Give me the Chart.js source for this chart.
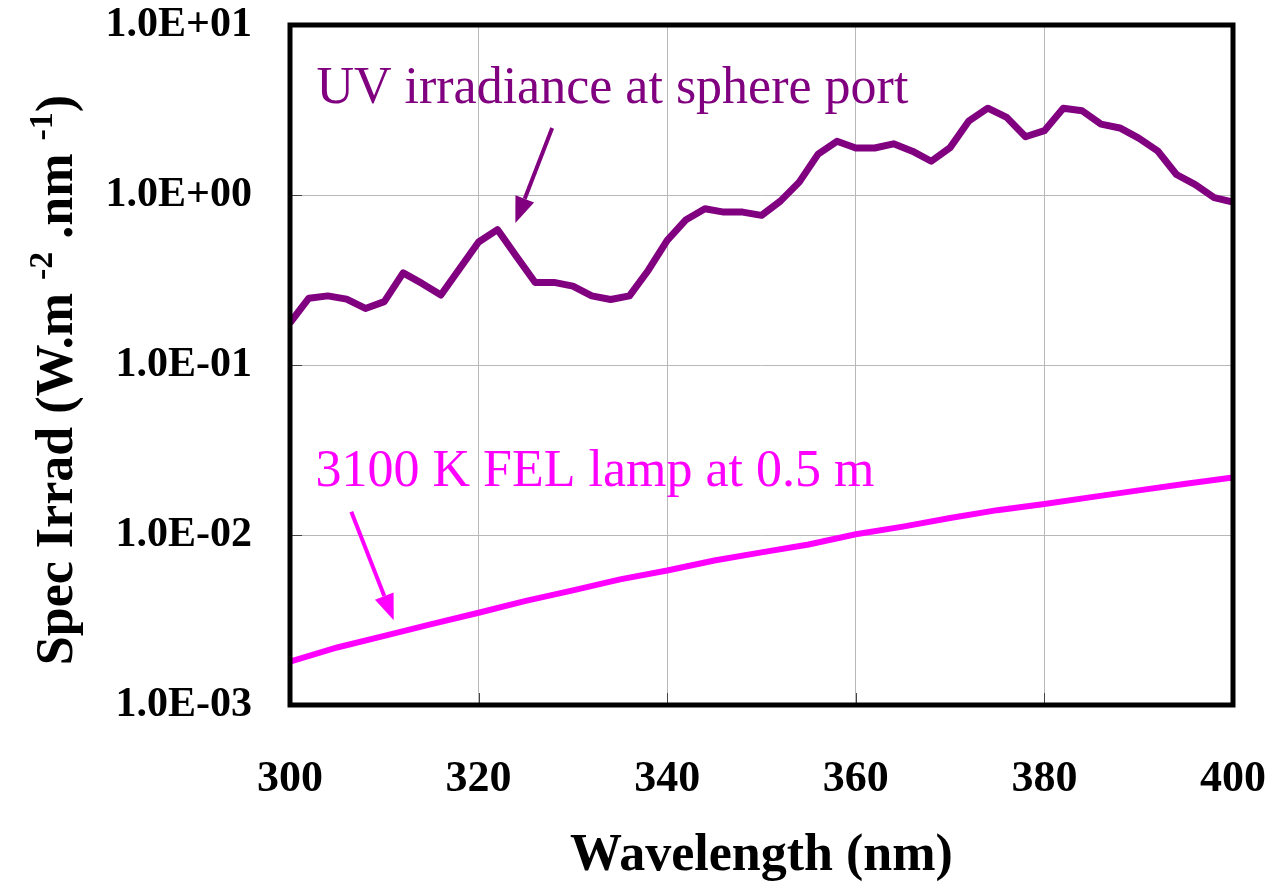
<!DOCTYPE html>
<html>
<head>
<meta charset="utf-8">
<title>Spectral irradiance</title>
<script src="https://cdn.jsdelivr.net/npm/chart.js@4.4.1/dist/chart.umd.min.js"></script>
<style>
  html, body { margin: 0; padding: 0; background: #fff; }
  canvas { display: block; }
</style>
</head>
<body>
<canvas id="grafico" width="1272" height="883"></canvas>
<script>
// datos
const wavelengths = [300, 302, 304, 306, 308, 310, 312, 314, 316, 318, 320, 322, 324, 326, 328, 330, 332, 334, 336, 338,
                     340, 342, 344, 346, 348, 350, 352, 354, 356, 358, 360, 362, 364, 366, 368, 370, 372, 374, 376, 378,
                     380, 382, 384, 386, 388, 390, 392, 394, 396, 398, 400];
const uvIrrad = [0.177, 0.247, 0.255, 0.244, 0.215, 0.236, 0.348, 0.302, 0.258, 0.370, 0.529, 0.626, 0.436, 0.306, 0.306,
                 0.291, 0.255, 0.243, 0.255, 0.361, 0.541, 0.716, 0.830, 0.793, 0.793, 0.759, 0.920, 1.19, 1.74, 2.07,
                 1.89, 1.89, 2.00, 1.81, 1.58, 1.90, 2.73, 3.24, 2.86, 2.20, 2.39, 3.24, 3.13, 2.61, 2.48, 2.16,
                 1.82, 1.32, 1.15, 0.964, 0.907];

const lampWavelengths = [300, 305, 310, 315, 320, 325, 330, 335, 340, 345, 350, 355, 360, 365, 370, 375, 380, 385, 390, 395, 400];
const lampIrrad = [0.00180, 0.00218, 0.00255, 0.00299, 0.00349, 0.00410, 0.00472, 0.00548, 0.00618, 0.00708, 0.00790,
                   0.00880, 0.0101, 0.0112, 0.0126, 0.0140, 0.0152, 0.0167, 0.0183, 0.0200, 0.0218];

const xTicks = [300, 320, 340, 360, 380, 400];
const yTicks = [0.001, 0.01, 0.1, 1, 10];
const yTickLabels = ['1.0E-03', '1.0E-02', '1.0E-01', '1.0E+00', '1.0E+01'];

const serif = '"Liberation Serif", "Times New Roman", serif';
const purple = '#800080';
const magenta = '#ff00ff';

// textos y flechas en coordenadas de datos
const notes = [
    { text: 'UV irradiance at sphere port', x: 302.8, y: 3.5, color: purple },
    { text: '3100 K FEL lamp at 0.5 m', x: 302.7, y: 0.0194, color: magenta }
];
const arrows = [
    { from: [327.8, 2.48], to: [323.9, 0.684], color: purple },
    { from: [306.5, 0.0137], to: [311.0, 0.00315], color: magenta }
];

function toPoints(xs, ys) {
    return xs.map((x, i) => ({ x: x, y: ys[i] }));
}

const decoraciones = {
    id: 'decoraciones',
    afterDatasetsDraw(chart) {
        const ctx = chart.ctx;
        const area = chart.chartArea;
        const xs = chart.scales.x;
        const ys = chart.scales.y;

        // marcas interiores
        ctx.save();
        ctx.strokeStyle = '#444';
        ctx.lineWidth = 1;
        yTicks.forEach(v => {
            const py = Math.round(ys.getPixelForValue(v)) + 0.5;
            ctx.beginPath();
            ctx.moveTo(area.left, py);
            ctx.lineTo(area.left + 12, py);
            ctx.stroke();
        });
        xTicks.forEach(v => {
            const px = Math.round(xs.getPixelForValue(v)) + 0.5;
            ctx.beginPath();
            ctx.moveTo(px, area.bottom);
            ctx.lineTo(px, area.bottom - 12);
            ctx.stroke();
        });
        ctx.restore();

        // marco negro
        ctx.save();
        ctx.strokeStyle = '#000';
        ctx.lineWidth = 5;
        ctx.strokeRect(area.left, area.top, area.right - area.left, area.bottom - area.top);
        ctx.restore();

        // anotaciones
        ctx.save();
        ctx.font = '52px ' + serif;
        ctx.textAlign = 'left';
        ctx.textBaseline = 'alphabetic';
        notes.forEach(n => {
            ctx.fillStyle = n.color;
            ctx.fillText(n.text, xs.getPixelForValue(n.x), ys.getPixelForValue(n.y));
        });
        arrows.forEach(a => {
            const x0 = xs.getPixelForValue(a.from[0]), y0 = ys.getPixelForValue(a.from[1]);
            const x1 = xs.getPixelForValue(a.to[0]), y1 = ys.getPixelForValue(a.to[1]);
            const ang = Math.atan2(y1 - y0, x1 - x0);
            const head = 26, half = 10;
            const bx = x1 - head * Math.cos(ang), by = y1 - head * Math.sin(ang);
            ctx.strokeStyle = a.color;
            ctx.fillStyle = a.color;
            ctx.lineWidth = 4;
            ctx.beginPath();
            ctx.moveTo(x0, y0);
            ctx.lineTo(bx, by);
            ctx.stroke();
            ctx.beginPath();
            ctx.moveTo(x1, y1);
            ctx.lineTo(bx + half * Math.sin(ang), by - half * Math.cos(ang));
            ctx.lineTo(bx - half * Math.sin(ang), by + half * Math.cos(ang));
            ctx.closePath();
            ctx.fill();
        });
        ctx.restore();

        // titulos de ejes
        ctx.save();
        ctx.fillStyle = '#000';
        ctx.font = 'bold 52px ' + serif;
        ctx.textAlign = 'center';
        ctx.textBaseline = 'alphabetic';
        ctx.fillText('Wavelength (nm)', (area.left + area.right) / 2, 870);

        const parts = [
            { t: 'Spec Irrad (W.m ', sup: false },
            { t: '-2', sup: true },
            { t: ' .nm ', sup: false },
            { t: '-1', sup: true },
            { t: ')', sup: false }
        ];
        const bigFont = 'bold 52px ' + serif;
        const supFont = 'bold 34px ' + serif;
        let total = 0;
        parts.forEach(p => {
            ctx.font = p.sup ? supFont : bigFont;
            p.w = ctx.measureText(p.t).width;
            total += p.w;
        });
        ctx.translate(72, (area.top + area.bottom) / 2 + 15);
        ctx.rotate(-Math.PI / 2);
        ctx.textAlign = 'left';
        let pos = -total / 2;
        parts.forEach(p => {
            ctx.font = p.sup ? supFont : bigFont;
            ctx.fillText(p.t, pos, p.sup ? -20 : 0);
            pos += p.w;
        });
        ctx.restore();
    }
};

const ctx = document.getElementById('grafico').getContext('2d');

new Chart(ctx, {
    type: 'line',
    data: {
        datasets: [{
            label: 'UV irradiance at sphere port',
            data: toPoints(wavelengths, uvIrrad),
            borderColor: purple,
            borderWidth: 7,
            pointRadius: 0,
            tension: 0,
            borderJoinStyle: 'round'
        }, {
            label: '3100 K FEL lamp at 0.5 m',
            data: toPoints(lampWavelengths, lampIrrad),
            borderColor: magenta,
            borderWidth: 6,
            pointRadius: 0,
            tension: 0
        }]
    },
    options: {
        responsive: false,
        animation: false,
        devicePixelRatio: 1,
        layout: { padding: { top: 25, right: 39, left: 0, bottom: 0 } },
        plugins: {
            legend: { display: false },
            tooltip: { enabled: false }
        },
        scales: {
            x: {
                type: 'linear',
                min: 300,
                max: 400,
                afterBuildTicks: s => { s.ticks = xTicks.map(v => ({ value: v })); },
                // tamaño fijo y sin relleno extra para las etiquetas
                afterFit: s => { s.height = 178; s.paddingLeft = 0; s.paddingRight = 0; },
                grid: { color: '#b8b8b8', lineWidth: 1, drawTicks: false },
                border: { display: false },
                ticks: {
                    padding: 48,
                    color: '#000',
                    font: { family: serif, size: 44, weight: 'bold' }
                }
            },
            y: {
                type: 'logarithmic',
                min: 0.001,
                max: 10,
                afterBuildTicks: s => { s.ticks = yTicks.map(v => ({ value: v })); },
                afterFit: s => { s.width = 290; s.paddingTop = 0; s.paddingBottom = 0; },
                grid: { color: '#b8b8b8', lineWidth: 1, drawTicks: false },
                border: { display: false },
                ticks: {
                    padding: 38,
                    color: '#000',
                    font: { family: serif, size: 42, weight: 'bold' },
                    callback: v => yTickLabels[yTicks.indexOf(v)]
                }
            }
        }
    },
    plugins: [decoraciones]
});
</script>
</body>
</html>
